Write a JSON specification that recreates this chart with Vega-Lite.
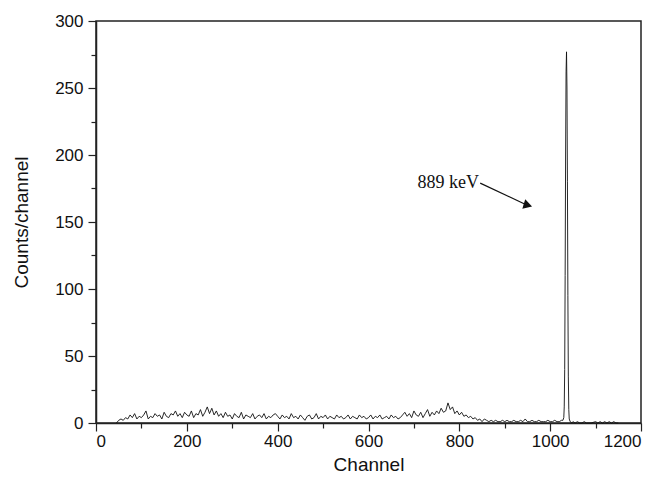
{
  "$schema": "https://vega.github.io/schema/vega-lite/v6.json",
  "autosize": "none",
  "width": 545,
  "height": 402,
  "padding": {"left": 96, "top": 21, "right": 22, "bottom": 62},
  "background": "white",
  "config": {
    "view": {"stroke": "#222", "strokeWidth": 1.5},
    "axis": {
      "labelFont": "Liberation Sans", "titleFont": "Liberation Sans",
      "labelFontSize": 17, "titleFontSize": 19, "titleFontWeight": "normal",
      "labelColor": "#111", "titleColor": "#111",
      "domainColor": "#222", "tickColor": "#222", "domainWidth": 1.5, "tickWidth": 1.2,
      "grid": false, "tickSize": 8, "format": "d"
    }
  },
  "datasets": {
    "spec": [
      {"ch":45,"c":0},{"ch":50,"c":2},{"ch":55,"c":3},{"ch":60,"c":2},{"ch":65,"c":4},{"ch":70,"c":3},{"ch":75,"c":6},{"ch":80,"c":4},{"ch":85,"c":7},{"ch":90,"c":3},
      {"ch":95,"c":5},{"ch":100,"c":4},{"ch":105,"c":6},{"ch":110,"c":9},{"ch":115,"c":3},{"ch":120,"c":5},{"ch":125,"c":4},{"ch":130,"c":7},{"ch":135,"c":5},{"ch":140,"c":6},
      {"ch":145,"c":3},{"ch":150,"c":8},{"ch":155,"c":5},{"ch":160,"c":4},{"ch":165,"c":7},{"ch":170,"c":6},{"ch":175,"c":9},{"ch":180,"c":5},{"ch":185,"c":7},{"ch":190,"c":4},
      {"ch":195,"c":8},{"ch":200,"c":6},{"ch":205,"c":5},{"ch":210,"c":9},{"ch":215,"c":4},{"ch":220,"c":7},{"ch":225,"c":6},{"ch":230,"c":10},{"ch":235,"c":5},{"ch":240,"c":8},
      {"ch":245,"c":12},{"ch":250,"c":7},{"ch":255,"c":11},{"ch":260,"c":6},{"ch":265,"c":9},{"ch":270,"c":5},{"ch":275,"c":7},{"ch":280,"c":4},{"ch":285,"c":8},{"ch":290,"c":5},
      {"ch":295,"c":6},{"ch":300,"c":3},{"ch":305,"c":7},{"ch":310,"c":5},{"ch":315,"c":4},{"ch":320,"c":8},{"ch":325,"c":3},{"ch":330,"c":6},{"ch":335,"c":5},{"ch":340,"c":4},
      {"ch":345,"c":7},{"ch":350,"c":3},{"ch":355,"c":5},{"ch":360,"c":6},{"ch":365,"c":4},{"ch":370,"c":7},{"ch":375,"c":3},{"ch":380,"c":5},{"ch":385,"c":4},{"ch":390,"c":6},
      {"ch":395,"c":7},{"ch":400,"c":5},{"ch":405,"c":3},{"ch":410,"c":6},{"ch":415,"c":4},{"ch":420,"c":5},{"ch":425,"c":3},{"ch":430,"c":7},{"ch":435,"c":4},{"ch":440,"c":5},
      {"ch":445,"c":3},{"ch":450,"c":6},{"ch":455,"c":4},{"ch":460,"c":2},{"ch":465,"c":5},{"ch":470,"c":6},{"ch":475,"c":3},{"ch":480,"c":4},{"ch":485,"c":7},{"ch":490,"c":3},
      {"ch":495,"c":5},{"ch":500,"c":4},{"ch":505,"c":6},{"ch":510,"c":3},{"ch":515,"c":5},{"ch":520,"c":4},{"ch":525,"c":3},{"ch":530,"c":6},{"ch":535,"c":4},{"ch":540,"c":5},
      {"ch":545,"c":3},{"ch":550,"c":4},{"ch":555,"c":6},{"ch":560,"c":3},{"ch":565,"c":5},{"ch":570,"c":4},{"ch":575,"c":3},{"ch":580,"c":6},{"ch":585,"c":4},{"ch":590,"c":5},
      {"ch":595,"c":3},{"ch":600,"c":4},{"ch":605,"c":6},{"ch":610,"c":3},{"ch":615,"c":5},{"ch":620,"c":4},{"ch":625,"c":6},{"ch":630,"c":3},{"ch":635,"c":4},{"ch":640,"c":5},
      {"ch":645,"c":3},{"ch":650,"c":6},{"ch":655,"c":4},{"ch":660,"c":5},{"ch":665,"c":3},{"ch":670,"c":4},{"ch":675,"c":6},{"ch":680,"c":8},{"ch":685,"c":5},{"ch":690,"c":7},
      {"ch":695,"c":4},{"ch":700,"c":9},{"ch":705,"c":6},{"ch":710,"c":5},{"ch":715,"c":8},{"ch":720,"c":4},{"ch":725,"c":7},{"ch":730,"c":10},{"ch":735,"c":5},{"ch":740,"c":8},
      {"ch":745,"c":6},{"ch":750,"c":9},{"ch":755,"c":7},{"ch":760,"c":11},{"ch":765,"c":8},{"ch":770,"c":9},{"ch":775,"c":15},{"ch":780,"c":10},{"ch":785,"c":12},{"ch":790,"c":7},
      {"ch":795,"c":9},{"ch":800,"c":6},{"ch":805,"c":8},{"ch":810,"c":5},{"ch":815,"c":6},{"ch":820,"c":4},{"ch":825,"c":5},{"ch":830,"c":3},{"ch":835,"c":4},{"ch":840,"c":2},
      {"ch":845,"c":3},{"ch":850,"c":1},{"ch":855,"c":3},{"ch":860,"c":2},{"ch":865,"c":1},{"ch":870,"c":2},{"ch":875,"c":1},{"ch":880,"c":2},{"ch":885,"c":1},{"ch":890,"c":1},
      {"ch":895,"c":2},{"ch":900,"c":1},{"ch":905,"c":2},{"ch":910,"c":1},{"ch":915,"c":1},{"ch":920,"c":2},{"ch":925,"c":1},{"ch":930,"c":1},{"ch":935,"c":2},{"ch":940,"c":1},
      {"ch":945,"c":3},{"ch":950,"c":1},{"ch":955,"c":1},{"ch":960,"c":2},{"ch":965,"c":1},{"ch":970,"c":1},{"ch":975,"c":2},{"ch":980,"c":1},{"ch":985,"c":1},{"ch":990,"c":1},
      {"ch":995,"c":2},{"ch":1000,"c":1},{"ch":1005,"c":1},{"ch":1010,"c":2},{"ch":1015,"c":1},{"ch":1020,"c":1},{"ch":1025,"c":2},{"ch":1028,"c":2},{"ch":1030,"c":4},{"ch":1031,"c":12},
      {"ch":1032,"c":40},{"ch":1033,"c":110},{"ch":1034,"c":200},{"ch":1035,"c":262},{"ch":1036,"c":277},{"ch":1037,"c":250},{"ch":1038,"c":180},{"ch":1039,"c":95},{"ch":1040,"c":35},{"ch":1041,"c":10},
      {"ch":1042,"c":3},{"ch":1044,"c":1},{"ch":1048,"c":0},{"ch":1050,"c":1},{"ch":1055,"c":0},{"ch":1060,"c":1},{"ch":1065,"c":0},{"ch":1070,"c":0},{"ch":1075,"c":1},{"ch":1080,"c":0},
      {"ch":1090,"c":0},{"ch":1100,"c":1},{"ch":1105,"c":0},{"ch":1110,"c":1},{"ch":1115,"c":0},{"ch":1120,"c":1},{"ch":1125,"c":0},{"ch":1130,"c":1},{"ch":1135,"c":0},{"ch":1140,"c":1},
      {"ch":1145,"c":0},{"ch":1150,"c":0}
    ],
    "arrow": [
      {"ch": 846, "c": 179, "ch2": 953, "c2": 162}
    ],
    "label": [
      {"ch": 708, "c": 179, "text": "889 keV"}
    ],
    "head": [
      {"ch": 951, "c": 162.5}
    ]
  },
  "layer": [
    {
      "data": {"name": "spec"},
      "mark": {"type": "line", "color": "#111", "strokeWidth": 0.9},
      "encoding": {
        "x": {"field": "ch", "type": "quantitative", "scale": {"domain": [0, 1200], "nice": false},
              "axis": {"values": [0,200,400,600,800,1000,1200], "title": "Channel", "labelPadding": 2, "titleY": 41, "titleBaseline": "middle", "orient": "bottom"}},
        "y": {"field": "c", "type": "quantitative", "scale": {"domain": [0, 300], "nice": false},
              "axis": {"values": [0,50,100,150,200,250,300], "title": "Counts/channel", "labelPadding": 5, "titleX": -75, "titleBaseline": "middle", "orient": "left"}}
      }
    },
    {
      "data": {"name": "arrow"},
      "mark": {"type": "rule", "color": "#111", "strokeWidth": 1.2},
      "encoding": {
        "x": {"field": "ch", "type": "quantitative", "scale": {"domain": [0, 1200], "nice": false},
              "axis": {"values": [100,300,500,700,900,1100], "labels": false, "title": null, "tickSize": 5, "domain": false, "orient": "bottom"}},
        "y": {"field": "c", "type": "quantitative", "scale": {"domain": [0, 300], "nice": false},
              "axis": {"values": [25,75,125,175,225,275], "labels": false, "title": null, "tickSize": 5, "domain": false, "orient": "left"}},
        "x2": {"field": "ch2"},
        "y2": {"field": "c2"}
      }
    },
    {
      "data": {"name": "head"},
      "mark": {"type": "point", "shape": "triangle-right", "filled": true, "color": "#111", "size": 100, "angle": 17, "opacity": 1},
      "encoding": {
        "x": {"field": "ch", "type": "quantitative", "axis": null},
        "y": {"field": "c", "type": "quantitative", "axis": null}
      }
    },
    {
      "data": {"name": "label"},
      "mark": {"type": "text", "font": "Liberation Serif", "fontSize": 18, "align": "left", "baseline": "middle", "color": "#111"},
      "encoding": {
        "x": {"field": "ch", "type": "quantitative", "axis": null},
        "y": {"field": "c", "type": "quantitative", "axis": null},
        "text": {"field": "text"}
      }
    }
  ],
  "resolve": {"axis": {"x": "independent", "y": "independent"}}
}
